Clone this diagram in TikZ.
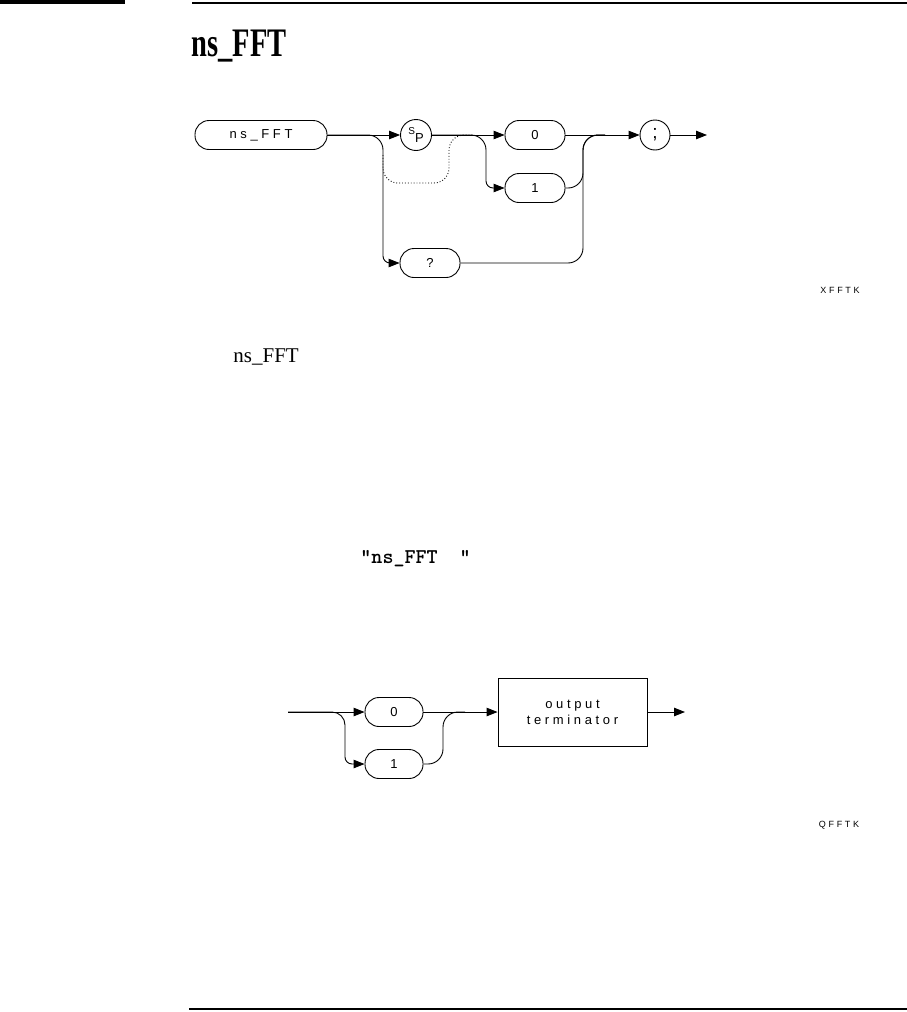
\documentclass[tikz,border=0pt]{standalone}
\usepackage{graphicx}
\usepackage{fontspec}
\setmainfont{Liberation Serif}
\newfontfamily\plotfont[LetterSpace=28]{Liberation Sans}
\newfontfamily\tagfont[LetterSpace=30]{Liberation Sans}
\usetikzlibrary{positioning, arrows.meta}

\tikzset{
  syn/.style={draw, rounded corners=14pt, minimum height=29pt, inner sep=0pt,
    font=\plotfont\fontsize{13}{15}\selectfont},
  ring/.style={draw, circle, minimum size=31pt, inner sep=0pt,
    font=\plotfont\fontsize{13}{15}\selectfont},
  arr/.style={-{Triangle[length=11pt,width=8.5pt]}},
  tag/.style={font=\tagfont\fontsize{9}{11}\selectfont}
}

\begin{document}
\begin{tikzpicture}[x=1pt, y=-1pt, line width=0.9pt]
        \useasboundingbox (0,0) rectangle (907,1012);
        \fill (0,0) rectangle (125,4);
        \draw[line width=2pt] (192,3) -- (907,3);
        \node[anchor=base west, inner sep=0pt] (title) at (191,56) {\scalebox{0.95}[1.35]{\bfseries\fontsize{30}{34}\selectfont ns\_FFT}};

        % syntax of the command
        \node[syn, minimum width=132pt] (cmd) at (261,135) {ns\_FFT};
        \node[ring] (sp) at (416,135) {\raisebox{4pt}{\fontsize{10}{10}\selectfont S}\raisebox{-4pt}{P}};
        \node[syn, minimum width=60pt] (zero) at (535,135) {0};
        \node[syn, minimum width=60pt] (one) at (535,188) {1};
        \node[syn, minimum width=60pt] (query) at (430,263) {?};
        \node[ring, minimum size=30pt, font=\plotfont\fontsize{19}{19}\selectfont] (semi) at (655,135) {;};
        \coordinate (cmdbr) at (383,135);
        \coordinate (spbr) at (486,135);
        \coordinate (merge) at (583,135);
        \coordinate (mergeend) at (605,135);
        \coordinate (skipin) at (383,155);
        \coordinate (skipout) at (472,135);
        \coordinate (stop) at (707,135);
        \draw[arr] (cmd.east) -- (sp.west);
        \draw[arr] (cmd.east) [rounded corners=15pt] -- (cmdbr) [rounded corners=7pt] |- (query.west);
        \draw[dotted, rounded corners=15pt] (skipin) |- (449,183) |- (skipout);
        \draw[arr] (sp.east) -- (zero.west);
        \draw[arr] (sp.east) [rounded corners=15pt] -- (spbr) [rounded corners=7pt] |- (one.west);
        \draw[arr] (zero.east) -- (semi.west);
        \draw[rounded corners=15pt] (one.east) -| (merge) -- (mergeend);
        \draw[rounded corners=15pt] (query.east) -| (merge) -- (mergeend);
        \draw[arr] (semi.east) -- (stop);
        \node[tag] (xfftk) at (840,290) {XFFTK};

        \node[anchor=base west, inner sep=0pt, font=\fontsize{21}{24}\selectfont] (name) at (233,362) {ns\_FFT};
        \node[anchor=base west, inner sep=0pt, font=\ttfamily\bfseries\fontsize{21}{24}\selectfont] (query-text) at (360,563) {"ns\_FFT~~"};

        % syntax of the response
        \coordinate (in) at (288,712);
        \node[syn, minimum width=58pt] (rzero) at (394,712) {0};
        \node[syn, minimum width=58pt] (rone) at (394,764) {1};
        \node[draw, minimum width=149pt, minimum height=68pt, inner sep=0pt, align=center,
          font=\plotfont\fontsize{13}{16}\selectfont] (term) at (572.5,712) {output\\terminator};
        \coordinate (inbr) at (345,712);
        \coordinate (rmerge) at (443,712);
        \coordinate (rmergeend) at (465,712);
        \coordinate (rstop) at (685,712);
        \draw[arr] (in) -- (rzero.west);
        \draw[arr] (in) [rounded corners=13pt] -- (inbr) [rounded corners=7pt] |- (rone.west);
        \draw[arr] (rzero.east) -- (term.west);
        \draw[rounded corners=15pt] (rone.east) -| (rmerge) -- (rmergeend);
        \draw[arr] (term.east) -- (rstop);
        \node[tag] (qfftk) at (839,825) {QFFTK};

        \draw[line width=1.5pt] (189,1009) -- (907,1009);
\end{tikzpicture}
\end{document}
